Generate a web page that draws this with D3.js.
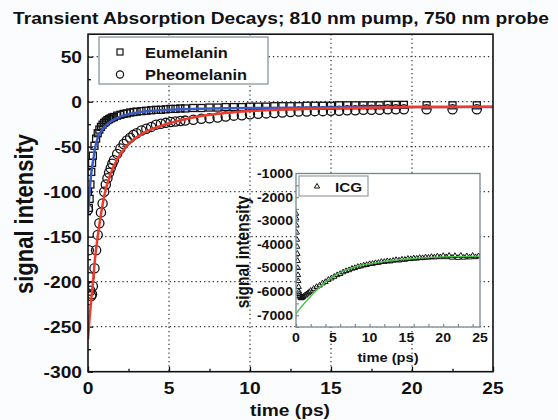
<!DOCTYPE html>
<html>
<head>
<meta charset="utf-8">
<script src="https://cdn.jsdelivr.net/npm/d3@7"></script>
<style>
  body { margin: 0; background: #fbfcfe; }
  svg { display: block; font-family: "Liberation Sans", Arial, sans-serif; font-weight: bold; }
</style>
</head>
<body>
<div id="chart"></div>
<script>
// main plot data (time in ps)
const tMain = [0, 0.05, 0.1, 0.15, 0.2, 0.25, 0.3, 0.4, 0.5, 0.6, 0.7, 0.8, 0.9, 1.0, 1.1, 1.2, 1.3, 1.4, 1.5, 1.6,
  1.8, 2.0, 2.2, 2.4, 2.6, 2.8, 3.0, 3.3, 3.6, 3.9, 4.2, 4.5, 4.8, 5.1, 5.4, 5.7, 6.0,
  6.5, 7.0, 7.5, 8.0, 8.5, 9.0, 9.5, 10.0, 10.5, 11.0, 11.5, 12.0, 12.5, 13.0, 13.5, 14.0, 14.5, 15.0,
  15.5, 16.0, 16.5, 17.0, 17.5, 18.0, 18.5, 19.0, 19.5, 20.9, 22.5, 24.0];
const eumelanin = [-100, -118, -108, -92, -78, -68, -60, -49, -41, -35, -31, -28, -25.5, -23.5, -22, -20.5, -19.5, -18.5, -17.5, -17,
  -15.5, -14.5, -13.5, -13, -12, -11.5, -11, -10.5, -10, -9.5, -9, -9, -8.5, -8, -8, -7.5, -7.5,
  -7, -7, -6.5, -6.5, -6, -6, -6, -5.5, -5.5, -5.5, -5, -5, -5, -5, -4.5, -4.5, -4.5, -4.5,
  -4, -4, -4, -4, -4, -4, -3.5, -3.5, -3.5, -4, -4, -4];
const pheomelanin = [-120, -165, -195, -210, -216, -214, -205, -185, -165, -148, -135, -123, -113, -100, -92, -85, -79, -74, -69, -65,
  -58, -52, -47, -43, -40, -37, -35, -32, -30, -28, -25.5, -24.5, -23.5, -22.5, -22, -21.5, -21,
  -20, -19, -18.5, -17.5, -16.5, -15.5, -15, -14, -13.5, -13, -12.5, -12, -11.5, -11, -11, -10.5, -10.5, -10,
  -10, -9.5, -9.5, -9, -9, -9, -8.5, -8.5, -8.5, -8.5, -8.5, -8.5];

// fits
const tFitEu = [0, 0.1, 0.2, 0.33, 0.45, 0.64, 0.8, 1.0, 1.15, 1.5, 2.0, 2.38, 3.0, 3.5, 4.43, 5.5, 7, 8.5, 10.4, 12.5, 15, 17.5, 20, 25];
const fitEu = [-124, -100, -80, -64, -50, -38.5, -33, -28.5, -25.6, -21, -16.5, -14.4, -12.3, -11, -9.6, -8.6, -7.8, -7.3, -7, -6.7, -6.4, -6.2, -6, -5.8];
const tFitPheo = [0, 0.1, 0.2, 0.3, 0.43, 0.6, 0.8, 1.05, 1.4, 1.8, 2.2, 2.6, 3.0, 3.5, 4.0, 4.4, 5, 6, 7, 8.5, 10.4, 12, 14, 16, 18, 20, 22, 25];
const fitPheo = [-264, -240, -220, -202, -175, -150, -125, -101, -80, -64, -53, -45.5, -39.5, -34, -30, -27.5, -24, -19.5, -16, -12.5, -10, -8.8, -7.8, -7, -6.4, -6, -5.8, -5.5];

// inset (ICG)
const tIcg = [0, 0.03, 0.06, 0.09, 0.12, 0.15, 0.18, 0.21, 0.24, 0.27, 0.3, 0.35, 0.4, 0.45, 0.5, 0.6, 0.7, 0.8, 0.9, 1.0,
  1.2, 1.4, 1.6, 1.8, 2.0, 2.4, 2.8, 3.2, 3.6, 4.0, 4.4, 4.8, 5.2, 5.6, 6.0, 6.4, 6.8, 7.2, 7.6, 8.0,
  8.4, 8.8, 9.2, 9.6, 10.0, 10.4, 10.8, 11.2, 11.6, 12.0, 12.4, 12.8, 13.2, 13.6, 14.0, 14.4, 14.8, 15.2, 15.6, 16.0,
  16.4, 16.8, 17.2, 17.6, 18.0, 18.4, 18.8, 19.2, 19.6, 20.0, 20.4, 20.8, 21.2, 21.6, 22.0, 22.4, 22.8, 23.2, 23.6, 24.0,
  24.4, 24.8];
const icg = [-2700, -2900, -3200, -3500, -3800, -4100, -4400, -4700, -5000, -5300, -5550, -5800, -6000, -6100, -6200, -6250, -6280, -6260, -6240, -6210,
  -6170, -6120, -6070, -6020, -5960, -5880, -5800, -5740, -5650, -5590, -5500, -5440, -5370, -5300, -5250, -5180, -5130, -5090, -5030, -5000,
  -4950, -4930, -4890, -4870, -4830, -4820, -4790, -4780, -4740, -4740, -4710, -4720, -4690, -4660, -4680, -4640, -4650, -4610, -4620, -4590,
  -4600, -4570, -4580, -4550, -4560, -4530, -4550, -4510, -4540, -4490, -4540, -4480, -4560, -4490, -4570, -4480, -4560, -4500, -4550, -4480,
  -4540, -4500];
const tFitIcg = [0, 1, 2, 3, 4, 5, 6, 8, 10, 12, 15, 18, 20, 25];
const fitIcg = [-6930, -6550, -6200, -5880, -5600, -5380, -5200, -4960, -4820, -4720, -4620, -4560, -4530, -4500];

const xTicks = [0, 5, 10, 15, 20, 25];
const yTicks = [-300, -250, -200, -150, -100, -50, 0, 50];
const insetXTicks = [0, 5, 10, 15, 20, 25];
const insetYTicks = [-7000, -6000, -5000, -4000, -3000, -2000, -1000];

const W = 558, H = 420;
const SX = 1.13; // the reference text is a bit wide

var svg = d3.select("#chart").append("svg")
    .attr("width", W)
    .attr("height", H);

svg.append("rect").attr("width", W).attr("height", H).attr("fill", "#fbfcfe");

var x = d3.scaleLinear().domain([0, 25]).range([88, 493]);
var y = d3.scaleLinear().domain([-300, 75]).range([371.7, 34.2]);

function label(g, px, py, str, size, anchor, rot) {
  return g.append("text")
      .attr("transform", "translate(" + px + "," + py + ") scale(" + SX + ",1)" + (rot ? " rotate(-90)" : ""))
      .attr("text-anchor", anchor)
      .attr("font-size", size)
      .attr("fill", "#111")
      .text(str);
}

svg.append("rect")
    .attr("x", x(0)).attr("y", y(75))
    .attr("width", x(25) - x(0)).attr("height", y(-300) - y(75))
    .attr("fill", "#ffffff");

// dotted grid
var grid = svg.append("g")
    .attr("stroke", "#333")
    .attr("stroke-width", 1.2)
    .attr("stroke-dasharray", "1.3,3");
grid.selectAll(".gx").data(xTicks.slice(1, -1)).enter().append("line")
    .attr("x1", d => x(d)).attr("x2", d => x(d))
    .attr("y1", y(75)).attr("y2", y(-300));
grid.selectAll(".gy").data(yTicks.slice(1)).enter().append("line")
    .attr("y1", d => y(d)).attr("y2", d => y(d))
    .attr("x1", x(0)).attr("x2", x(25));

// ticks (inward)
function noDomain(g) { g.select(".domain").remove(); g.selectAll("line").attr("stroke", "#111").attr("stroke-width", 1.3); }
svg.append("g").attr("transform", "translate(0," + y(-300) + ")")
    .call(d3.axisBottom(x).tickValues([2.5, 7.5, 12.5, 17.5, 22.5]).tickSize(-3).tickFormat(""))
    .call(noDomain);
svg.append("g").attr("transform", "translate(0," + y(-300) + ")")
    .call(d3.axisBottom(x).tickValues(xTicks).tickSize(-5).tickFormat(""))
    .call(noDomain);
svg.append("g").attr("transform", "translate(" + x(0) + ",0)")
    .call(d3.axisLeft(y).tickValues([-275, -225, -175, -125, -75, -25, 25]).tickSize(-3).tickFormat(""))
    .call(noDomain);
svg.append("g").attr("transform", "translate(" + x(0) + ",0)")
    .call(d3.axisLeft(y).tickValues(yTicks).tickSize(-5).tickFormat(""))
    .call(noDomain);

xTicks.forEach(d => label(svg, x(d), 394, d, 17, "middle"));
yTicks.forEach(d => label(svg, 82, y(d) + 6, d, 17, "end"));

// data
svg.append("clipPath").attr("id", "mainClip").append("rect")
    .attr("x", x(0)).attr("y", y(75)).attr("width", x(25) - x(0)).attr("height", y(-300) - y(75));
var plot = svg.append("g").attr("clip-path", "url(#mainClip)");

plot.selectAll(".sq").data(tMain).enter().append("rect")
    .attr("x", (d, i) => x(d) - 3.5)
    .attr("y", (d, i) => y(eumelanin[i]) - 3.5)
    .attr("width", 7).attr("height", 7)
    .attr("fill", "none").attr("stroke", "#111").attr("stroke-width", 1.3);

plot.selectAll(".ci").data(tMain).enter().append("circle")
    .attr("cx", (d, i) => x(d))
    .attr("cy", (d, i) => y(pheomelanin[i]))
    .attr("r", 4.6)
    .attr("fill", "none").attr("stroke", "#111").attr("stroke-width", 1.3);

var line = d3.line().curve(d3.curveMonotoneX);
plot.append("path")
    .attr("d", line(tFitEu.map((t, i) => [x(t), y(fitEu[i])])))
    .attr("fill", "none").attr("stroke", "#3b5bc4").attr("stroke-width", 2.5);
plot.append("path")
    .attr("d", line(tFitPheo.map((t, i) => [x(t), y(fitPheo[i])])))
    .attr("fill", "none").attr("stroke", "#ee3b2b").attr("stroke-width", 2.5);

// frame
svg.append("rect")
    .attr("x", x(0)).attr("y", y(75))
    .attr("width", x(25) - x(0)).attr("height", y(-300) - y(75))
    .attr("fill", "none").attr("stroke", "#111").attr("stroke-width", 1.6);

// legend
var leg = svg.append("g");
leg.append("rect").attr("x", 99).attr("y", 37).attr("width", 169).attr("height", 47)
    .attr("fill", "#fff").attr("stroke", "#7f8c93").attr("stroke-width", 1.2);
leg.append("rect").attr("x", 117).attr("y", 49).attr("width", 6).attr("height", 6)
    .attr("fill", "none").attr("stroke", "#111").attr("stroke-width", 1.2);
leg.append("circle").attr("cx", 120).attr("cy", 74.5).attr("r", 3.6)
    .attr("fill", "none").attr("stroke", "#111").attr("stroke-width", 1.2);
label(leg, 145, 58, "Eumelanin", 14.5, "start");
label(leg, 145, 79.5, "Pheomelanin", 14.5, "start");

// titles
label(svg, 13, 24, "Transient Absorption Decays; 810 nm pump, 750 nm probe", 17, "start");
label(svg, 290, 416, "time (ps)", 17, "middle");
label(svg, 33, 214, "signal intensity", 22, "middle", true);

// inset
var xi = d3.scaleLinear().domain([0, 25]).range([296, 480]);
var yi = d3.scaleLinear().domain([-7500, -1000]).range([327, 173.5]);
var inset = svg.append("g");
inset.append("rect")
    .attr("x", xi(0)).attr("y", yi(-1000))
    .attr("width", xi(25) - xi(0)).attr("height", yi(-7500) - yi(-1000))
    .attr("fill", "#fff");

svg.append("clipPath").attr("id", "insetClip").append("rect")
    .attr("x", xi(0)).attr("y", yi(-1000)).attr("width", xi(25) - xi(0)).attr("height", yi(-7500) - yi(-1000));
var iplot = inset.append("g").attr("clip-path", "url(#insetClip)");

var tri = d3.symbol().type(d3.symbolTriangle).size(13);
iplot.selectAll(".tr").data(tIcg).enter().append("path")
    .attr("d", tri)
    .attr("transform", (d, i) => "translate(" + xi(d) + "," + yi(icg[i]) + ")")
    .attr("fill", "none").attr("stroke", "#111").attr("stroke-width", 1);
iplot.append("path")
    .attr("d", line(tFitIcg.map((t, i) => [xi(t), yi(fitIcg[i])])))
    .attr("fill", "none").attr("stroke", "#4cc44c").attr("stroke-width", 1.4);

function insetTicks(g) { g.select(".domain").remove(); g.selectAll("line").attr("stroke", "#6f858e").attr("stroke-width", 1.1); }
inset.append("g").attr("transform", "translate(0," + yi(-7500) + ")")
    .call(d3.axisBottom(xi).ticks(10).tickSize(-3).tickFormat(""))
    .call(insetTicks);
inset.append("g").attr("transform", "translate(" + xi(0) + ",0)")
    .call(d3.axisLeft(yi).tickValues([-7500, -7000, -6500, -6000, -5500, -5000, -4500, -4000, -3500, -3000, -2500, -2000, -1500]).tickSize(-3).tickFormat(""))
    .call(insetTicks);

inset.append("rect")
    .attr("x", xi(0)).attr("y", yi(-1000))
    .attr("width", xi(25) - xi(0)).attr("height", yi(-7500) - yi(-1000))
    .attr("fill", "none").attr("stroke", "#74878f").attr("stroke-width", 1.3);

insetXTicks.forEach(d => label(inset, xi(d), 342, d, 12.5, "middle"));
insetYTicks.forEach(d => label(inset, 293, yi(d) + 4.5, d, 12.5, "end"));
label(inset, 388, 362, "time (ps)", 13, "middle");
label(inset, 249, 252, "signal intensity", 15.5, "middle", true);

inset.append("rect").attr("x", 299).attr("y", 176).attr("width", 69).attr("height", 20)
    .attr("fill", "#fff").attr("stroke", "#8a969c").attr("stroke-width", 1.1);
inset.append("path").attr("d", d3.symbol().type(d3.symbolTriangle).size(12))
    .attr("transform", "translate(317,186.5)")
    .attr("fill", "none").attr("stroke", "#111").attr("stroke-width", 1);
label(inset, 335, 192, "ICG", 13.5, "start");
</script>
</body>
</html>
